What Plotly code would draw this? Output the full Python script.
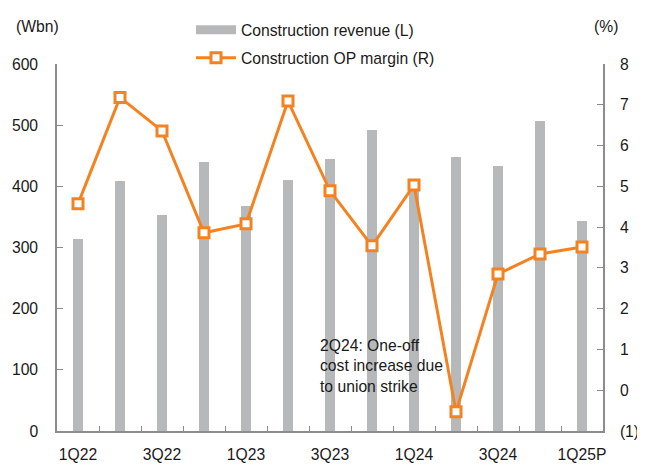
import plotly.graph_objects as go

categories = ["1Q22", "2Q22", "3Q22", "4Q22", "1Q23", "2Q23", "3Q23", "4Q23",
              "1Q24", "2Q24", "3Q24", "4Q24", "1Q25P"]
tick_labels = ["1Q22", "", "3Q22", "", "1Q23", "", "3Q23", "", "1Q24", "", "3Q24", "", "1Q25P"]
revenue = [314, 409, 353, 439, 368, 410, 445, 492, 400, 448, 433, 507, 343]
op_margin = [4.57, 7.18, 6.36, 3.86, 4.08, 7.09, 4.89, 3.54, 5.03, -0.53, 2.85, 3.34, 3.51]
y2_tickvals = [-1, 0, 1, 2, 3, 4, 5, 6, 7, 8]
y2_ticktext = ["(1)", "0", "1", "2", "3", "4", "5", "6", "7", "8"]

FONT = "Liberation Sans, Arial, sans-serif"
FS = 15.7
GRAY = "#B7B8BA"
ORANGE = "#F58220"
AXIS = "#8C8C8C"
TXT = "#1a1a1a"

# page has an 8px body margin; figure sized so the plot area lands where the reference has it
W, H = 637, 456
L, T, R, B = 49, 56, 42, 33
PW, PH = W - L - R, H - T - B

fig = go.Figure()

fig.add_trace(go.Bar(
    x=categories, y=revenue, marker=dict(color=GRAY, line=dict(width=0)),
    width=0.26, showlegend=False, yaxis="y", name="Construction revenue (L)"))

fig.add_trace(go.Scatter(
    x=categories, y=op_margin, yaxis="y2", mode="lines+markers",
    line=dict(color=ORANGE, width=3),
    marker=dict(symbol="square", size=10, color="white", line=dict(color=ORANGE, width=3)),
    name="Construction OP margin (R)", legend="legend2", cliponaxis=False))

# legend-only entry for the bars (thick gray line symbol)
fig.add_trace(go.Scatter(
    x=[categories[0]], y=[None], mode="lines", line=dict(color=GRAY, width=9),
    name="Construction revenue (L)", legend="legend", showlegend=True))

fig.update_layout(
    width=W, height=H,
    margin=dict(l=L, r=R, t=T, b=B, autoexpand=False),
    paper_bgcolor="white", plot_bgcolor="white",
    font=dict(family=FONT, size=FS, color=TXT),
    bargap=0,
    xaxis=dict(
        type="category", categoryorder="array", categoryarray=categories,
        range=[-0.5, len(categories) - 0.5], autorange=False,
        tickvals=categories, ticktext=tick_labels, tickangle=0,
        tickson="boundaries", ticks="inside", ticklen=5, tickcolor=AXIS, tickwidth=1,
        showline=True, linecolor=AXIS, linewidth=1.5, showgrid=False, zeroline=False,
        ticklabelstandoff=8, tickfont=dict(size=FS, color=TXT)),
    yaxis=dict(
        range=[0, 600], tickvals=[0, 100, 200, 300, 400, 500, 600],
        ticks="inside", ticklen=6, tickcolor=AXIS, tickwidth=1,
        showline=True, linecolor=AXIS, linewidth=1.5, showgrid=False, zeroline=False,
        ticklabelstandoff=14, tickfont=dict(size=FS, color=TXT)),
    yaxis2=dict(
        range=[-1, 8], tickvals=y2_tickvals, ticktext=y2_ticktext,
        overlaying="y", side="right",
        ticks="inside", ticklen=6, tickcolor=AXIS, tickwidth=1,
        showline=True, linecolor=AXIS, linewidth=1.5, showgrid=False, zeroline=False,
        ticklabelstandoff=12, tickfont=dict(size=FS, color=TXT)),
    legend=dict(xref="container", yref="container", x=(191 - 8)/W, y=1 - (13 - 8)/H,
                xanchor="left", yanchor="top", bgcolor="rgba(0,0,0,0)",
                itemwidth=40, font=dict(size=FS, color=TXT)),
    legend2=dict(xref="container", yref="container", x=(191 - 8)/W, y=1 - (41 - 8)/H,
                 xanchor="left", yanchor="top", bgcolor="rgba(0,0,0,0)",
                 itemwidth=40, font=dict(size=FS, color=TXT)),
    annotations=[
        dict(text="(Wbn)", xref="paper", yref="paper", x=(37-57)/PW, y=1+(64-27)/PH,
             showarrow=False, xanchor="center", yanchor="middle", font=dict(size=FS, color=TXT)),
        dict(text="(%)", xref="paper", yref="paper", x=(606-57)/PW, y=1+(64-27)/PH,
             showarrow=False, xanchor="center", yanchor="middle", font=dict(size=FS, color=TXT)),
        dict(text="2Q24: One-off<br>cost increase due<br>to union strike",
             xref="paper", yref="paper", x=(318-57)/PW, y=(431-366)/PH,
             showarrow=False, xanchor="left", yanchor="middle", align="left",
             font=dict(size=FS, color=TXT)),
    ],
)

fig.write_html("out.html")
